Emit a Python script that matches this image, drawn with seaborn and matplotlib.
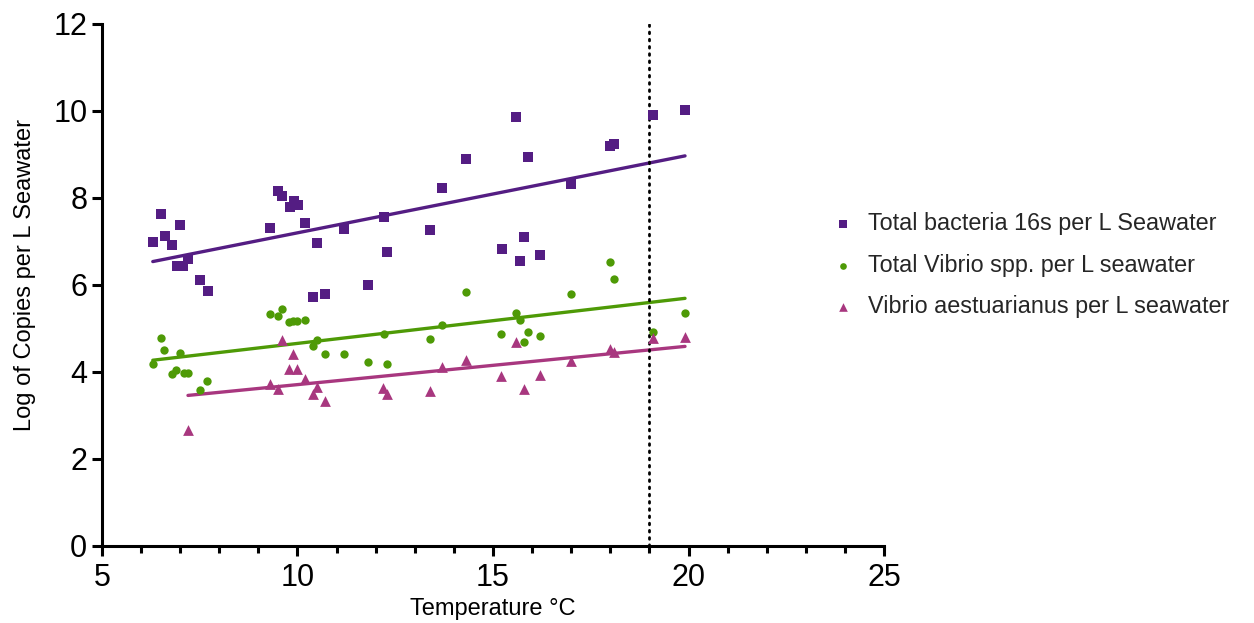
import numpy as np
import pandas as pd
import matplotlib
matplotlib.use("Agg")
import matplotlib.pyplot as plt
from matplotlib.ticker import MultipleLocator
import seaborn as sns

# Temperature (°C) and log copies per litre for each target
temp_16s = [6.30, 6.51, 6.61, 6.79, 6.92, 7.07, 6.99, 7.20, 7.51, 7.71,
            9.30, 9.50, 9.60, 9.81, 9.91, 10.01, 10.19, 10.50, 10.40, 10.70,
            11.19, 12.21, 12.29, 11.80, 13.39, 13.70, 14.31, 15.23, 15.59, 15.90,
            15.79, 15.69, 16.20, 17.00, 17.99, 18.09, 19.09, 19.91]
log_16s = [6.99, 7.63, 7.13, 6.92, 6.44, 6.44, 7.38, 6.60, 6.11, 5.86,
           7.31, 8.16, 8.05, 7.79, 7.93, 7.84, 7.43, 6.97, 5.72, 5.79,
           7.29, 7.56, 6.76, 6.00, 7.26, 8.23, 8.90, 6.83, 9.86, 8.94,
           7.10, 6.55, 6.69, 8.32, 9.20, 9.24, 9.91, 10.02]

temp_vib = [6.30, 6.51, 6.59, 6.99, 6.79, 6.89, 7.10, 7.20, 7.69, 7.51,
            9.30, 9.50, 9.60, 9.78, 9.88, 9.99, 10.19, 10.50, 10.40, 10.70,
            11.19, 11.80, 12.29, 12.21, 13.39, 13.70, 14.31, 15.20, 15.59, 15.69,
            15.90, 15.79, 16.20, 17.00, 17.99, 18.09, 19.09, 19.91]
log_vib = [4.18, 4.78, 4.51, 4.44, 3.95, 4.05, 3.98, 3.98, 3.79, 3.59,
           5.33, 5.29, 5.45, 5.15, 5.17, 5.17, 5.20, 4.74, 4.60, 4.41,
           4.41, 4.23, 4.18, 4.87, 4.76, 5.08, 5.84, 4.87, 5.36, 5.20,
           4.92, 4.69, 4.83, 5.79, 6.53, 6.14, 4.92, 5.36]

temp_vae = [7.20, 9.30, 9.50, 9.60, 9.78, 9.88, 9.99, 10.19, 10.50, 10.40,
            10.70, 12.19, 12.29, 13.39, 13.70, 14.31, 15.20, 15.59, 15.79, 16.20,
            17.00, 17.99, 18.09, 19.09, 19.91]
log_vae = [2.67, 3.72, 3.61, 4.74, 4.07, 4.41, 4.07, 3.84, 3.66, 3.49,
           3.33, 3.63, 3.49, 3.56, 4.11, 4.28, 3.91, 4.69, 3.61, 3.93,
           4.25, 4.53, 4.46, 4.78, 4.80]

series_names = ["Total bacteria 16s per L Seawater",
                "Total Vibrio spp. per L seawater",
                "Vibrio aestuarianus per L seawater"]
threshold_temp = 19.0

x_ticks = [5, 10, 15, 20, 25]
y_ticks = [0, 2, 4, 6, 8, 10, 12]

colors = ["#541D83", "#4E9A06", "#A8377F"]
markers = ["s", "o", "^"]
sizes = [44, 36, 60]

sns.set_theme(style="white")
plt.rcParams["font.family"] = ["Liberation Sans", "DejaVu Sans"]

fig = plt.figure(figsize=(12.54, 6.23), dpi=100)
ax = fig.add_axes([0.0813, 0.1236, 0.6237, 0.8379])

datasets = [(temp_16s, log_16s), (temp_vib, log_vib), (temp_vae, log_vae)]
for (tx, ly), name, c, m, s in zip(datasets, series_names, colors, markers, sizes):
    df = pd.DataFrame({"temp": tx, "log": ly})
    sns.scatterplot(data=df, x="temp", y="log", ax=ax, color=c, marker=m,
                    s=s, linewidth=0, label=name, zorder=3)
    sns.regplot(data=df, x="temp", y="log", ax=ax, scatter=False, ci=None,
                color=c, line_kws={"lw": 2.4, "solid_capstyle": "round",
                                   "zorder": 2},
                label="_nolegend_")

ax.axvline(threshold_temp, ymin=0, ymax=1, color="black", lw=2.0,
           linestyle=(0, (0.6, 2.0)), dash_capstyle="round")

ax.set_xlim(5, 25)
ax.set_ylim(0, 12)
ax.set_xticks(x_ticks)
ax.set_yticks(y_ticks)
ax.xaxis.set_minor_locator(MultipleLocator(1))

for side in ["top", "right"]:
    ax.spines[side].set_visible(False)
for side in ["left", "bottom"]:
    ax.spines[side].set_linewidth(2.2)
    ax.spines[side].set_color("black")
    ax.spines[side].set_capstyle("projecting")

ax.tick_params(axis="both", which="major", direction="out", length=7.5,
               width=2.2, color="black", labelsize=22, pad=3, labelcolor="black")
ax.tick_params(axis="x", which="major", pad=5)
ax.tick_params(axis="x", which="minor", direction="out", length=5,
               width=2.2, color="black", bottom=True)
ax.tick_params(axis="x", which="major", bottom=True)
ax.tick_params(axis="y", which="major", left=True)

ax.set_xlabel("Temperature °C", fontsize=17, labelpad=3, color="black")
ax.set_ylabel("Log of Copies per L Seawater", fontsize=17, color="black")
ax.yaxis.set_label_coords(-0.084, 0.519)
ax.grid(False)

leg = ax.legend(loc="center left", bbox_to_anchor=(0.903, 0.538), frameon=False,
                fontsize=16.8, handletextpad=0.45, labelspacing=0.78,
                markerscale=0.8, handlelength=1.2)

fig.savefig("out.png", dpi=100, facecolor="white")
